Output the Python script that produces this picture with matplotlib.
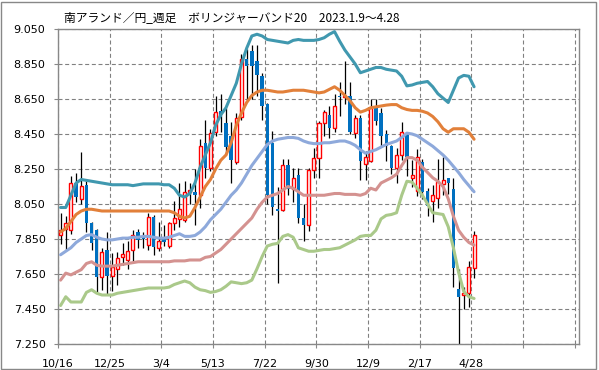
import matplotlib.pyplot as plt
from matplotlib.patches import Rectangle

# weekly OHLC, ZAR/JPY
opens = [7.875, 7.91, 7.90, 8.17, 8.08, 8.16, 7.94, 7.90, 7.635, 7.785,
         7.64, 7.68, 7.745, 7.73, 7.79, 7.89, 7.86, 7.815, 7.975, 7.80,
         7.85, 7.81, 7.94, 7.965, 7.96, 8.12, 8.12, 8.10, 8.40, 8.254,
         8.46, 8.58, 8.513, 8.44, 8.29, 8.545, 8.88, 8.926, 8.87, 8.783,
         8.62, 8.40, 8.02, 8.016, 8.275, 8.136, 8.217, 7.968, 7.93, 8.246,
         8.313, 8.513, 8.56, 8.484, 8.67, 8.66, 8.67, 8.454, 8.54, 8.28,
         8.297, 8.60, 8.568, 8.45, 8.383, 8.254, 8.33, 8.454, 8.20, 8.126,
         8.288, 8.126, 8.07, 8.084, 8.164, 8.20, 8.136, 7.564, 7.53, 7.54,
         7.684]
highs = [8.00, 7.98, 8.21, 8.23, 8.345, 8.18, 7.95, 7.91, 7.80, 7.89,
         7.77, 7.775, 7.83, 7.84, 7.90, 7.91, 7.89, 8.00, 7.99, 7.95,
         7.93, 7.945, 8.07, 8.17, 8.18, 8.17, 8.25, 8.42, 8.53, 8.48,
         8.67, 8.68, 8.60, 8.52, 8.57, 8.91, 8.935, 8.96, 8.96, 8.80,
         8.63, 8.47, 8.15, 8.307, 8.31, 8.256, 8.256, 8.05, 8.256, 8.37,
         8.526, 8.585, 8.61, 8.68, 8.745, 8.87, 8.745, 8.56, 8.56, 8.355,
         8.65, 8.65, 8.60, 8.475, 8.39, 8.37, 8.52, 8.454, 8.30, 8.364,
         8.31, 8.14, 8.16, 8.31, 8.32, 8.20, 8.20, 7.68, 7.574, 7.726,
         7.894]
lows = [7.82, 7.79, 7.88, 8.06, 8.05, 7.89, 7.79, 7.55, 7.56, 7.535,
        7.555, 7.59, 7.70, 7.68, 7.715, 7.80, 7.80, 7.79, 7.76, 7.78,
        7.81, 7.80, 7.90, 7.92, 7.95, 8.05, 7.93, 8.03, 8.20, 8.24,
        8.44, 8.46, 8.33, 8.17, 8.28, 8.53, 8.65, 8.65, 8.67, 8.53,
        8.05, 7.99, 7.60, 8.01, 8.10, 8.06, 7.94, 7.84, 7.897, 8.20,
        8.198, 8.44, 8.43, 8.46, 8.555, 8.62, 8.45, 8.43, 8.19, 8.19,
        8.29, 8.50, 8.38, 8.297, 8.22, 8.17, 8.30, 8.21, 8.15, 8.098,
        8.08, 7.98, 7.95, 8.03, 8.10, 8.11, 7.574, 7.25, 7.45, 7.46,
        7.63]
closes = [7.90, 7.94, 8.17, 8.09, 8.155, 7.94, 7.83, 7.635, 7.775, 7.64,
          7.69, 7.74, 7.765, 7.78, 7.875, 7.845, 7.85, 7.975, 7.805, 7.84,
          7.835, 7.94, 7.97, 8.02, 8.12, 8.13, 8.10, 8.383, 8.254, 8.456,
          8.578, 8.55, 8.374, 8.30, 8.54, 8.88, 8.84, 8.84, 8.785, 8.612,
          8.10, 8.035, 8.01, 8.275, 8.136, 8.198, 7.968, 7.93, 8.246, 8.313,
          8.513, 8.574, 8.484, 8.61, 8.66, 8.67, 8.46, 8.54, 8.294, 8.32,
          8.60, 8.526, 8.44, 8.383, 8.254, 8.33, 8.463, 8.317, 8.216, 8.317,
          8.117, 8.037, 8.10, 8.174, 8.19, 8.168, 7.684, 7.517, 7.54, 7.688,
          7.875]

# Bollinger bands (20 weeks)
upper2 = [8.03, 8.03, 8.10, 8.17, 8.19, 8.185, 8.18, 8.175, 8.17, 8.165,
          8.16, 8.16, 8.16, 8.16, 8.155, 8.16, 8.165, 8.165, 8.165, 8.165,
          8.16, 8.16, 8.14, 8.10, 8.09, 8.11, 8.17, 8.26, 8.33, 8.40,
          8.50, 8.56, 8.60, 8.67, 8.74, 8.85, 8.94, 9.01, 9.02, 9.01,
          8.99, 8.985, 8.98, 8.975, 8.97, 8.985, 8.99, 8.985, 8.985, 8.985,
          8.99, 9.00, 9.02, 9.035, 8.98, 8.93, 8.89, 8.85, 8.80, 8.81,
          8.82, 8.83, 8.83, 8.82, 8.815, 8.81, 8.78, 8.725, 8.73, 8.74,
          8.745, 8.75, 8.72, 8.68, 8.655, 8.63, 8.70, 8.77, 8.785, 8.78,
          8.72]
upper1 = [7.89, 7.91, 7.95, 7.99, 8.01, 8.02, 8.02, 8.015, 8.01, 8.01,
          8.01, 8.01, 8.01, 8.01, 8.01, 8.01, 8.01, 8.01, 8.01, 8.01,
          8.01, 8.01, 8.00, 7.98, 7.97, 7.98, 8.03, 8.09, 8.15, 8.19,
          8.25, 8.30, 8.33, 8.40, 8.50, 8.57, 8.63, 8.67, 8.69, 8.70,
          8.70, 8.695, 8.69, 8.69, 8.695, 8.70, 8.70, 8.70, 8.695, 8.69,
          8.685, 8.69, 8.705, 8.72, 8.70, 8.67, 8.64, 8.60, 8.575, 8.585,
          8.60, 8.605, 8.61, 8.615, 8.618, 8.618, 8.60, 8.59, 8.585, 8.585,
          8.58, 8.57, 8.55, 8.52, 8.48, 8.46, 8.48, 8.48, 8.48, 8.46,
          8.42]
middle = [7.76, 7.78, 7.80, 7.83, 7.85, 7.87, 7.875, 7.86, 7.85, 7.845,
          7.845, 7.85, 7.855, 7.855, 7.86, 7.86, 7.865, 7.865, 7.86, 7.855,
          7.855, 7.86, 7.87, 7.88, 7.865, 7.865, 7.87, 7.89, 7.92, 7.96,
          7.99, 8.02, 8.06, 8.10, 8.13, 8.17, 8.22, 8.27, 8.31, 8.35,
          8.39, 8.41, 8.42, 8.425, 8.43, 8.43, 8.425, 8.41, 8.40, 8.395,
          8.395, 8.40, 8.40, 8.405, 8.41, 8.41, 8.40, 8.385, 8.36, 8.34,
          8.35, 8.36, 8.375, 8.39, 8.40, 8.41, 8.43, 8.455, 8.45, 8.44,
          8.42, 8.40, 8.38, 8.355, 8.33, 8.30, 8.265, 8.23, 8.19, 8.155,
          8.12]
lower1 = [7.615, 7.655, 7.645, 7.66, 7.675, 7.71, 7.72, 7.70, 7.695, 7.695,
          7.695, 7.70, 7.705, 7.71, 7.715, 7.72, 7.72, 7.72, 7.72, 7.72,
          7.72, 7.72, 7.725, 7.725, 7.725, 7.73, 7.73, 7.73, 7.745, 7.75,
          7.77, 7.79, 7.82, 7.85, 7.88, 7.91, 7.94, 7.97, 8.02, 8.06,
          8.09, 8.10, 8.11, 8.13, 8.15, 8.14, 8.12, 8.10, 8.10, 8.10,
          8.10, 8.10, 8.105, 8.11, 8.11, 8.105, 8.105, 8.105, 8.10, 8.11,
          8.14, 8.13, 8.17, 8.185, 8.20, 8.22, 8.27, 8.315, 8.315, 8.30,
          8.26, 8.23, 8.20, 8.18, 8.15, 8.08, 7.98, 7.90, 7.86, 7.83,
          7.815]
lower2 = [7.47, 7.52, 7.49, 7.49, 7.49, 7.545, 7.56, 7.54, 7.53, 7.53,
          7.53, 7.54, 7.545, 7.55, 7.555, 7.56, 7.565, 7.57, 7.57, 7.57,
          7.57, 7.575, 7.59, 7.60, 7.61, 7.60, 7.575, 7.56, 7.555, 7.545,
          7.55, 7.56, 7.58, 7.605, 7.60, 7.595, 7.60, 7.615, 7.68, 7.75,
          7.81, 7.82, 7.825, 7.865, 7.875, 7.86, 7.80, 7.79, 7.78, 7.78,
          7.785, 7.79, 7.79, 7.795, 7.80, 7.815, 7.83, 7.845, 7.865, 7.87,
          7.87, 7.90, 7.965, 7.985, 7.99, 8.00, 8.10, 8.18, 8.175, 8.14,
          8.10, 8.05, 8.00, 7.995, 7.99, 7.92, 7.80, 7.66, 7.55, 7.52,
          7.51]

x_labels = ['10/16', '12/25', '3/4', '5/13', '7/22', '9/30', '12/9', '2/17', '4/28', '', '']
y_ticks = [7.25, 7.45, 7.65, 7.85, 8.05, 8.25, 8.45, 8.65, 8.85, 9.05]
title = '南アランド／円_週足\u3000ボリンジャーバンド20\u30002023.1.9～4.28'

fig = plt.figure(figsize=(5.99, 3.70), dpi=100)
ax = fig.add_axes([58/599, 1-344/370, (579-58)/599, (344-29)/370])

xs = [i + 0.5 for i in range(len(opens))]

# candles
for x, o, h, l, c in zip(xs, opens, highs, lows, closes):
    ax.plot([x, x], [l, h], color='black', lw=0.9, zorder=2, solid_capstyle='butt')
    if c >= o:
        ax.bar(x, c - o, bottom=o, width=0.6, facecolor='white',
               edgecolor='#FF0000', linewidth=1.0, zorder=3)
    else:
        ax.bar(x, o - c, bottom=c, width=0.65, color='#0070C0',
               linewidth=0, zorder=3)

band_style = [(upper2, '#4098AF'), (upper1, '#E2803A'), (middle, '#8EA9DB'),
              (lower1, '#D49290'), (lower2, '#AAC98A')]
for vals, col in band_style:
    ax.plot(xs, vals, color=col, lw=2.2, zorder=4, solid_capstyle='round')

ax.set_xlim(0, 100.8)
ax.set_ylim(7.25, 9.05)
ax.set_xticks(range(0, 101, 10))
ax.set_xticklabels(x_labels)
ax.set_yticks(y_ticks)
ax.set_yticklabels(['%.3f' % v for v in y_ticks])
ax.tick_params(axis='both', labelsize=8, length=3, color='#888888', width=0.8)
ax.tick_params(axis='x', pad=8)
ax.tick_params(axis='y', pad=6)

ax.grid(True, color='#808080', lw=0.8, linestyle=(0, (3.6, 2.4)))
ax.set_axisbelow(True)
for s in ax.spines.values():
    s.set_color('#888888')
    s.set_linewidth(1.0)

fig.text(64/599, 1-17.5/370, title, ha='left', va='center', fontsize=8.5,
         family=['Noto Sans CJK JP', 'DejaVu Sans'])

fig.patches.append(Rectangle((1/599, 1/370), 595/599, 367/370, transform=fig.transFigure,
                             fill=False, edgecolor='#888888', lw=1.0))

fig.savefig('out.png', dpi=100)
